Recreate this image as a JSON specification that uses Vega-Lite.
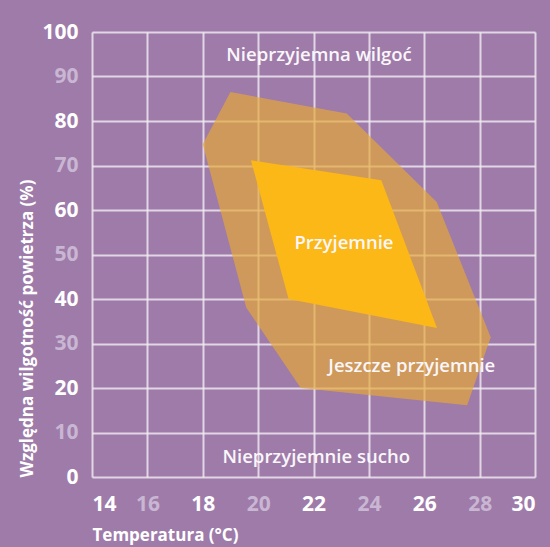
{
  "$schema": "https://vega.github.io/schema/vega-lite/v6.json",
  "width": 443,
  "height": 445,
  "autosize": "none",
  "padding": {"left": 92, "top": 32, "right": 15, "bottom": 70},
  "background": "#9e7ba9",
  "config": {
    "view": {"stroke": null},
    "font": "Open Sans",
    "axis": {
      "grid": true,
      "gridColor": "#f2ecf4",
      "gridOpacity": 0.8,
      "gridWidth": 2,
      "domain": false,
      "ticks": false,
      "labelFont": "Open Sans",
      "labelFontWeight": 700,
      "labelFontSize": 21,
      "titleFont": "Open Sans",
      "titleFontWeight": 700,
      "titleColor": "#ffffff",
      "titleFontSize": 17
    }
  },
  "encoding": {
    "x": {
      "field": "t", "type": "quantitative",
      "scale": {"domain": [14, 30], "nice": false, "zero": false},
      "axis": {
        "values": [14, 16, 18, 20, 22, 24, 26, 28, 30],
        "labelPadding": 16,
        "labelColor": {"condition": {"test": "(datum.value - 14) % 4 == 0", "value": "#ffffff"}, "value": "#c9b6d3"},
        "title": "Temperatura (°C)",
        "titleAnchor": "start",
        "titlePadding": 13
      }
    },
    "y": {
      "field": "rh", "type": "quantitative",
      "scale": {"domain": [0, 100], "nice": false},
      "axis": {
        "values": [0, 10, 20, 30, 40, 50, 60, 70, 80, 90, 100],
        "labelPadding": 14,
        "labelColor": {"condition": {"test": "datum.value % 20 == 0", "value": "#ffffff"}, "value": "#c9b6d3"},
        "title": "Względna wilgotność powietrza (%)",
        "titleAnchor": "start",
        "titlePadding": 5
      }
    }
  },
  "layer": [
    {
      "data": {"values": [
        {"i": 0, "t": 18.0, "rh": 74.8},
        {"i": 1, "t": 19.0, "rh": 86.5},
        {"i": 2, "t": 23.2, "rh": 81.7},
        {"i": 3, "t": 26.45, "rh": 61.8},
        {"i": 4, "t": 28.4, "rh": 31.4},
        {"i": 5, "t": 27.55, "rh": 16.1},
        {"i": 6, "t": 21.54, "rh": 20.0},
        {"i": 7, "t": 19.57, "rh": 38.1}
      ]},
      "mark": {"type": "line", "filled": true, "interpolate": "linear-closed", "fill": "#e4a836", "fillOpacity": 0.68, "strokeWidth": 0},
      "encoding": {"order": {"field": "i", "type": "quantitative"}}
    },
    {
      "data": {"values": [
        {"i": 0, "t": 19.74, "rh": 71.2},
        {"i": 1, "t": 24.45, "rh": 66.7},
        {"i": 2, "t": 26.46, "rh": 33.5},
        {"i": 3, "t": 21.1, "rh": 40.0}
      ]},
      "mark": {"type": "line", "filled": true, "interpolate": "linear-closed", "fill": "#fbb817", "fillOpacity": 1, "strokeWidth": 0},
      "encoding": {"order": {"field": "i", "type": "quantitative"}}
    },
    {
      "data": {"values": [
        {"label": "Nieprzyjemna wilgoć", "t": 22.2, "rh": 94.8},
        {"label": "Przyjemnie", "t": 23.1, "rh": 52.6},
        {"label": "Jeszcze przyjemnie", "t": 25.55, "rh": 25.0},
        {"label": "Nieprzyjemnie sucho", "t": 22.1, "rh": 4.5}
      ]},
      "mark": {"type": "text", "font": "Open Sans", "fontWeight": 600, "fontSize": 18.5, "color": "#faf6fa", "align": "center", "baseline": "middle"},
      "encoding": {"text": {"field": "label", "type": "nominal"}}
    }
  ]
}
